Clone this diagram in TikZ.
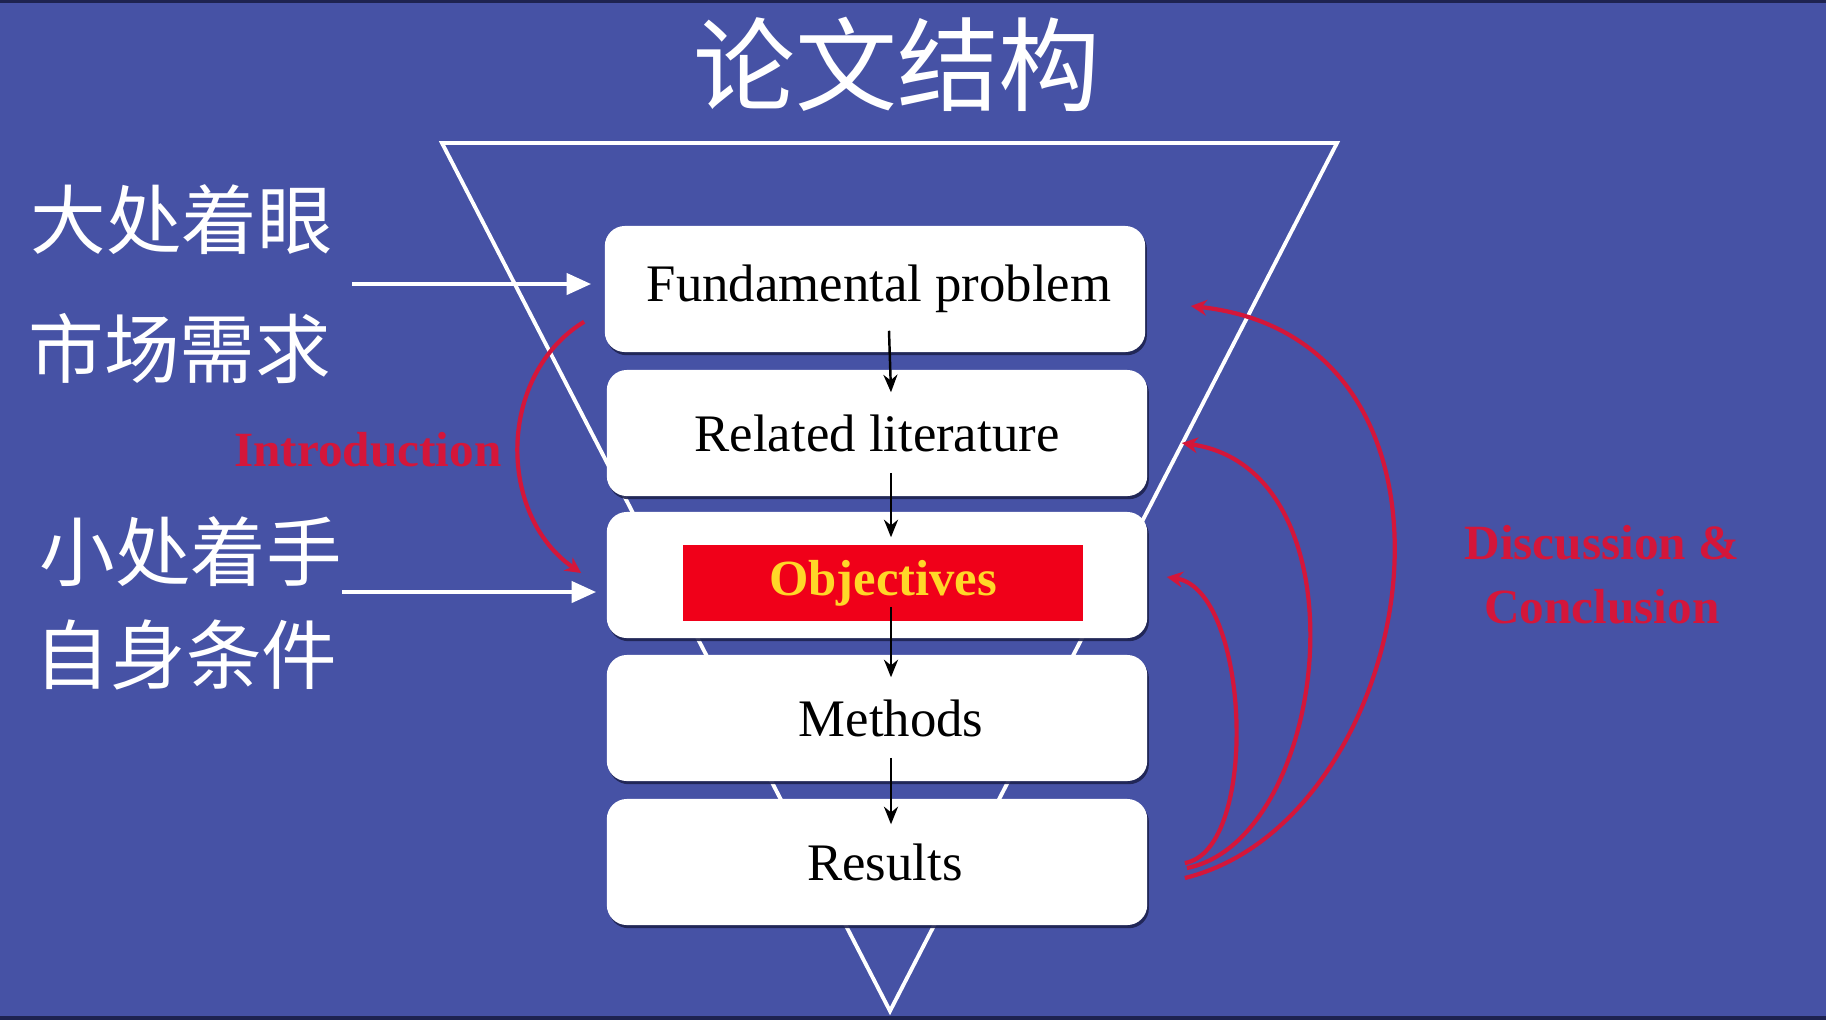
\documentclass[tikz,border=0pt]{standalone}
\usepackage{fontspec}
\setmainfont{Liberation Serif}
\newfontfamily\cjk{Noto Sans CJK SC}
\usetikzlibrary{arrows.meta,calc,shadows}
\definecolor{bgblue}{RGB}{70,82,165}
\definecolor{crim}{RGB}{212,22,58}
\definecolor{objred}{RGB}{240,0,25}
\definecolor{objyellow}{RGB}{255,215,40}
\definecolor{edge}{RGB}{30,35,80}
\begin{document}
\begin{tikzpicture}[x=0.01cm,y=-0.01cm,
  stagebox/.style={rectangle, rounded corners=0.2cm, fill=white, minimum width=5.4cm, minimum height=1.26cm,
    drop shadow={shadow xshift=0.5pt, shadow yshift=-0.9pt, fill=edge, opacity=0.9},
    font=\fontsize{15}{18}\selectfont, text=black},
  cjklabel/.style={font=\cjk\fontsize{21.5}{24}\selectfont, text=white},
  whitearrow/.style={draw=white, line width=1.2pt, -{Triangle[length=7pt,width=6pt]}},
  blackarrow/.style={draw=black, line width=0.7pt, -{Stealth[length=5pt,width=4pt]}},
  redcurve/.style={draw=crim, line width=1.2pt, -{Stealth[length=4.5pt,width=4.5pt]}},
  redlabel/.style={text=crim, font=\bfseries\fontsize{14}{18.2}\selectfont, align=center}]
% background
\fill[bgblue] (0,0) rectangle (1826,1020);
\useasboundingbox (0,0) rectangle (1826,1020);
\fill[edge] (0,0) rectangle (1826,3);
\fill[edge] (0,1016) rectangle (1826,1020);
% title
\node[font=\cjk\fontsize{29}{32}\selectfont, text=white] (title) at (897,64) {论文结构};
% funnel
\draw[white, line width=1.1pt, line join=miter] (442,143) -- (1337,143) -- (890,1011) -- cycle;
% left labels
\node[cjklabel] (l1) at (182,220) {大处着眼};
\node[cjklabel] (l2) at (180,349) {市场需求};
\node[cjklabel] (l3) at (191,552) {小处着手};
\node[cjklabel] (l4) at (186,655) {自身条件};
\coordinate (wa1) at (352,284);
\coordinate (wa2) at (342,592);
% boxes
\node[stagebox] (b1) at (875,289) {\hspace*{0.08cm}Fundamental problem};
\node[stagebox] (b2) at (877,433) {Related literature};
\node[stagebox] (b3) at (877,575) {};
\node[stagebox] (b4) at (877,718) {\hspace*{0.28cm}Methods};
\node[stagebox] (b5) at (877,862) {\hspace*{0.16cm}Results};
\node[fill=objred, minimum width=3.99cm, minimum height=0.76cm, text=objyellow,
  font=\bfseries\fontsize{14.4}{17}\selectfont] (obj) at (883,583) {Objectives};
% white arrows
\draw[whitearrow, shorten >=0.13cm] (wa1) -- (wa1 -| b1.west);
\draw[whitearrow, shorten >=0.10cm] (wa2) -- (wa2 -| b3.west);
% black arrows
\draw[blackarrow] ($(b1.south)+(14,-22)$) -- ($(b2.north)+(14,23)$);
\draw[blackarrow] ($(b2.south)+(14,-24)$) -- ($(b3.north)+(14,26)$);
\draw[blackarrow] ($(b3.south)+(14,-32)$) -- ($(b4.north)+(14,23)$);
\draw[blackarrow] ($(b4.south)+(14,-24)$) -- ($(b5.north)+(14,26)$);
% introduction curve
\coordinate (is) at ($(b1.south west)+(-20,-31)$);
\coordinate (ie) at ($(b3.west)+(-25,-2)$);
\draw[redcurve] (is) .. controls (497,375) and (497,515) .. (ie);
\node[redlabel] (intro) at (368,450) {Introduction};
% discussion curves
\coordinate (s1) at ($(b5.east)+(37,16)$);
\coordinate (e1) at ($(b1.east)+(45,17)$);
\coordinate (s2) at ($(b5.east)+(39,6)$);
\coordinate (e2) at ($(b2.east)+(34,10)$);
\coordinate (s3) at ($(b5.east)+(37,1)$);
\coordinate (e3) at ($(b3.east)+(19,2)$);
\draw[redcurve] (s1) .. controls (1420,820) and (1500,340) .. (e1);
\draw[redcurve] (s2) .. controls (1330,840) and (1370,470) .. (e2);
\draw[redcurve] (s3) .. controls (1260,850) and (1250,590) .. (e3);
\node[redlabel] (disc) at (1602,575) {Discussion \&\\Conclusion};
\end{tikzpicture}
\end{document}
